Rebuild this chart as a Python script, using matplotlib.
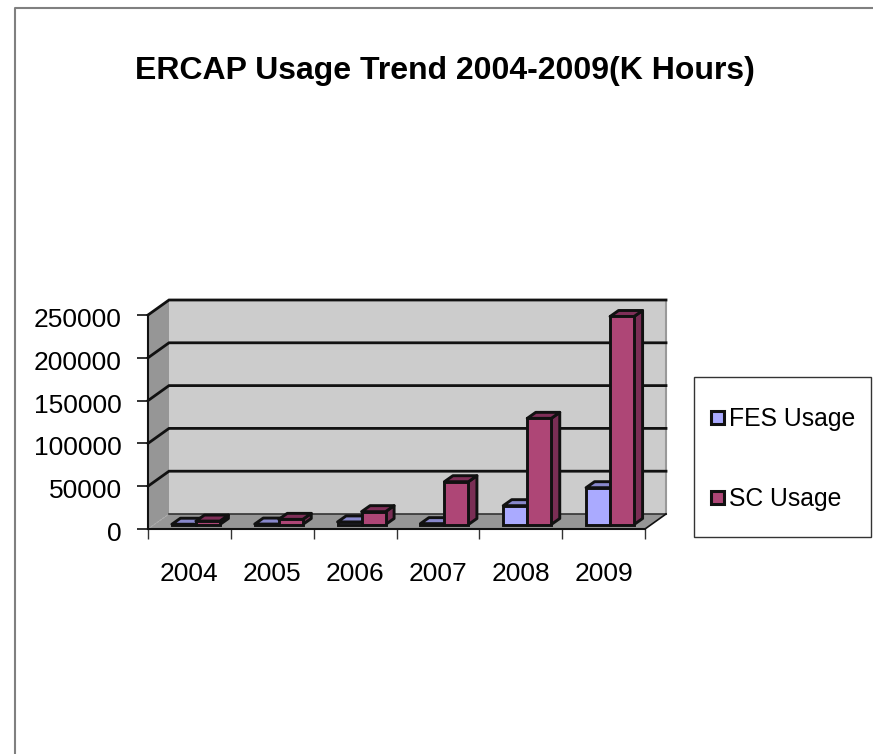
import matplotlib
matplotlib.use("Agg")
from matplotlib import pyplot as plt
from matplotlib.patches import Rectangle
from matplotlib.transforms import ScaledTranslation

years = ["2004", "2005", "2006", "2007", "2008", "2009"]
fes_usage = [300, 500, 3000, 1000, 22000, 43000]
sc_usage = [4000, 6000, 15000, 50000, 124000, 243000]
y_ticks = [0, 50000, 100000, 150000, 200000, 250000]

W, H = 873, 754
plt.rcParams['font.family'] = ['Liberation Sans', 'DejaVu Sans']

fig = plt.figure(figsize=(W / 100, H / 100), dpi=100)

#axes box in pixels of the picture
left, right, top, bottom = 148, 645, 315, 529
ax = fig.add_axes([left / W, 1 - bottom / H, (right - left) / W, (bottom - top) / H])
ax.set_xlim(0, 6)
ax.set_ylim(0, 250000)
ax.patch.set_visible(False)

#pixels to data units
px_x = 6 / (right - left)
px_y = 250000 / (bottom - top)

#3d look
depth_x, depth_y = 21 * px_x, 15 * px_y
wall_c, side_c = "#cccccc", "#969696"
line_c = "#111111"
ax.fill([0, depth_x, depth_x, 0], [0, depth_y, 250000 + depth_y, 250000], color=side_c, lw=0, zorder=1, clip_on=False)
ax.fill([0, 6, 6 + depth_x, depth_x], [0, 0, depth_y, depth_y], color=side_c, lw=0, zorder=1, clip_on=False)
ax.fill([depth_x, 6 + depth_x, 6 + depth_x, depth_x], [depth_y, depth_y, 250000 + depth_y, 250000 + depth_y],
        color=wall_c, lw=0, zorder=1, clip_on=False)
ax.plot([6 + depth_x, 6 + depth_x], [depth_y, 250000 + depth_y], color="#999999", lw=1.5, zorder=2, clip_on=False)

#grid lines, side wall then back wall
for v in y_ticks:
    if v == 0:
        ax.plot([depth_x, 6 + depth_x], [depth_y, depth_y], color="#333333", lw=1.2, zorder=2, clip_on=False)
        continue
    ax.plot([0, depth_x, 6 + depth_x], [v, v + depth_y, v + depth_y], color=line_c, lw=2, zorder=2,
            clip_on=False, solid_joinstyle="miter")
ax.plot([6, 6 + depth_x], [0, depth_y], color=line_c, lw=1.2, zorder=2, clip_on=False)
ax.plot([0, depth_x], [0, depth_y], color="#aaaaaa", lw=1, ls=":", zorder=2, clip_on=False)

#bars
bar_w = 24 * px_x
base_x, base_y = 6.5 * px_x, 4.5 * px_y
bar_dx, bar_dy = 8.5 * px_x, 6 * px_y


def draw_bar(x0, val, front, topc, sidec, z):
    y0, y1 = base_y, base_y + val
    x1 = x0 + bar_w
    kw = dict(edgecolor=line_c, lw=2.1, zorder=z, clip_on=False, joinstyle="round")
    ax.fill([x1, x1 + bar_dx, x1 + bar_dx, x1], [y0, y0 + bar_dy, y1 + bar_dy, y1], facecolor=sidec, **kw)
    ax.fill([x0, x1, x1 + bar_dx, x0 + bar_dx], [y1, y1, y1 + bar_dy, y1 + bar_dy], facecolor=topc, **kw)
    ax.bar(x0, val, bar_w, bottom=y0, align="edge", color=front, edgecolor=line_c, lw=2.1, zorder=z, clip_on=False)


for i in range(len(years)):
    c = i + 0.5 + base_x
    draw_bar(c - bar_w, fes_usage[i], "#aaaaff", "#8888cc", "#666699", 3 + i)
    draw_bar(c, sc_usage[i], "#ae4676", "#7f2f58", "#7a2e55", 3.5 + i)

#axes lines and ticks
for s in ["top", "right"]:
    ax.spines[s].set_visible(False)
for s in ["left", "bottom"]:
    ax.spines[s].set_linewidth(1.5)
    ax.spines[s].set_color(line_c)
    ax.spines[s].set_zorder(12)
ax.set_yticks(y_ticks)
ax.set_yticklabels([str(v) for v in y_ticks], fontsize=19)
ax.set_xticks(range(7))
ax.set_xticklabels([""] * 7)
ax.tick_params(axis="y", length=8, width=1.2, color=line_c, pad=11)
ax.tick_params(axis="x", length=7, width=1, color="#333333")
#labels sit a little under their ticks in the original
for lab in ax.get_yticklabels():
    lab.set_transform(lab.get_transform() + ScaledTranslation(0, -2.5 / 100, fig.dpi_scale_trans))
for i, yr in enumerate(years):
    ax.text(i + 0.5, -52000, yr, ha="center", va="center", fontsize=19)

#title
fig.text(445 / W, 1 - 71 / H, "ERCAP Usage Trend 2004-2009(K Hours)", ha="center", va="center",
         fontsize=23, fontweight="bold")

#legend box, pixel placed like the original
fig.add_artist(Rectangle((694 / W, 1 - 536.5 / H), 176.5 / W, 160 / H, transform=fig.transFigure,
                         facecolor="white", edgecolor="#333333", lw=1))
for name, col, ypx in [("FES Usage", "#aaaaff", 419), ("SC Usage", "#ae4676", 499)]:
    fig.add_artist(Rectangle((711 / W, 1 - (ypx + 5) / H), 13 / W, 13 / H, transform=fig.transFigure,
                             facecolor=col, edgecolor=line_c, lw=2.2))
    fig.text(729 / W, 1 - ypx / H, name, ha="left", va="center", fontsize=17.8)

#page border, left and top only
fig.add_artist(plt.Line2D([14.5 / W, 14.5 / W, 1], [0, 1 - 8 / H, 1 - 8 / H],
                          color="#808080", lw=1.5, transform=fig.transFigure))

fig.savefig("out.png", dpi=100)
